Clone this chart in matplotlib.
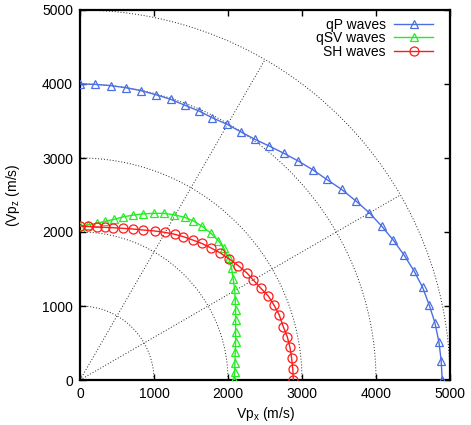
import numpy as np
import matplotlib
matplotlib.use("Agg")
import matplotlib.pyplot as plt

plt.rcParams["font.family"] = ["Liberation Sans", "DejaVu Sans"]
plt.rcParams["mathtext.default"] = "regular"

# ── Data ──────────────────────────────────────────────────────────────────────
qp_x = [0, 203, 415, 622, 824, 1023, 1225, 1419, 1608, 1787, 1990, 2171, 2364,
        2558, 2756, 2949, 3152, 3333, 3535, 3724, 3909, 4076, 4233, 4382, 4512,
        4630, 4719, 4796, 4850, 4881, 4895]
qp_z = [4000, 3995, 3978, 3950, 3910, 3856, 3793, 3712, 3635, 3544, 3454, 3355,
        3252, 3161, 3063, 2959, 2837, 2711, 2576, 2423, 2260, 2080, 1891, 1684,
        1477, 1252, 1013, 774, 517, 261, 0]

qsv_x = [0, 113, 225, 338, 460, 585, 720, 855, 995, 1135, 1275, 1415, 1531, 1652,
         1766, 1869, 1945, 2009, 2049, 2071, 2090, 2098, 2103, 2103, 2103, 2103,
         2098, 2094, 2089, 2085]
qsv_z = [2081, 2099, 2117, 2144, 2171, 2205, 2229, 2245, 2252, 2252, 2232, 2198,
         2150, 2076, 1985, 1885, 1779, 1644, 1509, 1360, 1225, 1081, 946, 811,
         653, 517, 382, 234, 113, 0]

sh_x = [0, 113, 225, 338, 450, 585, 720, 855, 1013, 1149, 1284, 1396, 1523, 1644,
        1766, 1891, 2018, 2139, 2252, 2342, 2445, 2544, 2621, 2693, 2747, 2801,
        2837, 2860, 2876, 2882]
sh_z = [2081, 2075, 2069, 2063, 2058, 2049, 2040, 2027, 2013, 1995, 1968, 1937,
        1892, 1846, 1787, 1720, 1635, 1545, 1450, 1351, 1239, 1135, 1013, 878,
        720, 585, 441, 293, 144, 0]

grid_radii = [1000, 2000, 3000, 4000, 5000]
grid_angles = [30, 60]
ticks = [0, 1000, 2000, 3000, 4000, 5000]

# ── Figure ────────────────────────────────────────────────────────────────────
fig = plt.figure(figsize=(4.71, 4.25), dpi=100)
ax = fig.add_axes([80 / 471, 45 / 425, 370 / 471, 370 / 425])

# polar grid
th = np.linspace(0, np.pi / 2, 200)
for r in grid_radii:
    ax.plot(r * np.cos(th), r * np.sin(th), color="#222222", lw=0.7,
            ls=(0, (1, 2)), zorder=1)
for a in grid_angles:
    t = np.radians(a)
    ax.plot([0, 5000 * np.cos(t)], [0, 5000 * np.sin(t)], color="#222222",
            lw=0.7, ls=(0, (1, 2)), zorder=1)

ax.plot(qp_x, qp_z, color="#4a6fe3", lw=1.0, marker="^", ms=6, mfc="none",
        mew=0.9, label="qP waves", zorder=3)
ax.plot(qsv_x, qsv_z, color="#22ee22", lw=1.0, marker="^", ms=6, mfc="none",
        mew=0.9, label="qSV waves", zorder=3)
ax.plot(sh_x, sh_z, color="#ff1a1a", lw=1.0, marker="o", ms=6.5, mfc="none",
        mew=0.9, label="SH waves", zorder=3)

ax.set_xlim(0, 5000)
ax.set_ylim(0, 5000)
ax.set_xticks(ticks)
ax.set_yticks(ticks)
ax.tick_params(direction="in", top=True, right=True, length=4, width=1,
               labelsize=10, pad=5)
for s in ax.spines.values():
    s.set_linewidth(1.6)

ax.set_xlabel("Vp$_x$ (m/s)", fontsize=10, labelpad=3)
ax.set_ylabel("(Vp$_z$ (m/s)", fontsize=10, labelpad=14)

ax.legend(loc="upper right", bbox_to_anchor=(433 / 471, 1 - 18 / 425),
          bbox_transform=fig.transFigure, frameon=False, markerfirst=False,
          fontsize=10, handlelength=2.8, handletextpad=0.6, labelspacing=-0.05,
          borderpad=0, borderaxespad=0)

fig.savefig("out.png", dpi=100)
